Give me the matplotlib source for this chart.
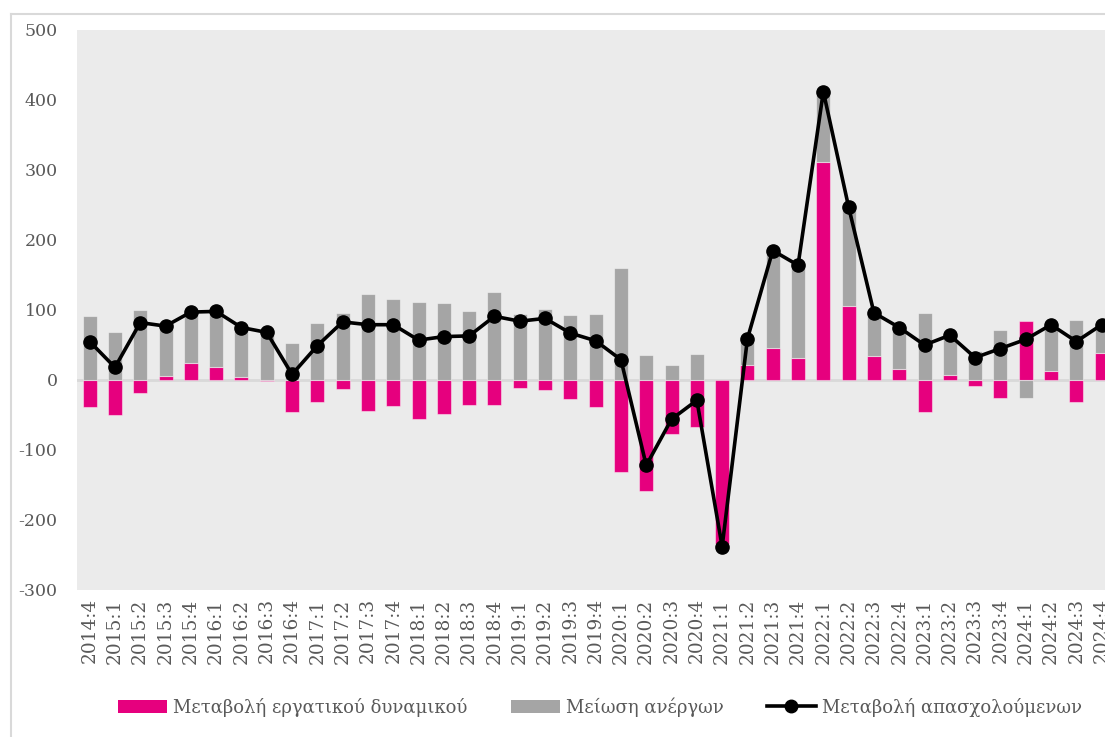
import numpy as np
import matplotlib
matplotlib.use("Agg")
import matplotlib.pyplot as plt
from matplotlib.patches import Patch
from matplotlib.lines import Line2D

categories = ["2014:4",
              "2015:1", "2015:2", "2015:3", "2015:4",
              "2016:1", "2016:2", "2016:3", "2016:4",
              "2017:1", "2017:2", "2017:3", "2017:4",
              "2018:1", "2018:2", "2018:3", "2018:4",
              "2019:1", "2019:2", "2019:3", "2019:4",
              "2020:1", "2020:2", "2020:3", "2020:4",
              "2021:1", "2021:2", "2021:3", "2021:4",
              "2022:1", "2022:2", "2022:3", "2022:4",
              "2023:1", "2023:2", "2023:3", "2023:4",
              "2024:1", "2024:2", "2024:3", "2024:4"]

labour_force_change = [-38,
                       -50, -19, 6, 25,
                       18, 4, -2, -45,
                       -32, -13, -44, -37,
                       -55, -48, -35, -36,
                       -12, -14, -27, -38,
                       -131, -158, -77, -67,
                       -234, 21, 46, 32,
                       312, 106, 34, 16,
                       -46, 7, -9, -26,
                       84, 13, -31, 38]

unemployed_reduction = [92,
                        68, 100, 71, 72,
                        80, 71, 70, 53,
                        81, 96, 123, 116,
                        112, 110, 98, 126,
                        95, 101, 93, 94,
                        160, 36, 21, 37,
                        -4, 38, 139, 132,
                        100, 142, 62, 59,
                        96, 57, 41, 71,
                        -26, 66, 86, 41]

employment_change = [55,
                     18, 82, 77, 97,
                     98, 75, 68, 8,
                     49, 83, 79, 79,
                     57, 62, 63, 91,
                     84, 88, 67, 56,
                     29, -122, -56, -29,
                     -238, 59, 185, 164,
                     412, 247, 96, 75,
                     50, 64, 32, 45,
                     58, 79, 55, 79]

yticks = [-300, -200, -100, 0, 100, 200, 300, 400, 500]

labels = ["Μεταβολή εργατικού δυναμικού", "Μείωση ανέργων", "Μεταβολή απασχολούμενων"]

PINK = "#E6007E"
GREY = "#A5A5A5"
TXT = "#595959"

plt.rcParams["font.family"] = ["DejaVu Serif", "Liberation Serif"]

W, H = 1105, 737
fig = plt.figure(figsize=(W / 100, H / 100), dpi=100)
fig.patch.set_facecolor("white")

left_px, top_px, bot_px = 77, 30, 590
n = len(categories)
step = 25.3
ax = fig.add_axes([left_px / W, 1 - bot_px / H, n * step / W, (bot_px - top_px) / H])
ax.set_facecolor("#EBEBEB")

x = np.arange(n)
pink = np.array(labour_force_change, dtype=float)
grey = np.array(unemployed_reduction, dtype=float)
same_sign = np.sign(pink) == np.sign(grey)
grey_bottom = np.where(same_sign, pink, 0.0)

ax.axhline(0, color="#D9D9D9", lw=2, zorder=1)
bw = 0.55
ax.bar(x, pink, width=bw, color=PINK, edgecolor=(1, 1, 1, 0.45), linewidth=0.8, zorder=2)
ax.bar(x, grey, width=bw, bottom=grey_bottom, color=GREY, edgecolor=(1, 1, 1, 0.45),
       linewidth=0.8, zorder=2)
ax.plot(x, employment_change, color="black", lw=2.6, marker="o", markersize=9.5, zorder=3)

ax.set_xlim(-0.5, n - 0.5)
ax.set_ylim(-300, 500)
ax.set_yticks(yticks)
ax.set_yticklabels([str(v) for v in yticks])
ax.set_xticks(x)
ax.set_xticklabels(categories, rotation=90)
ax.tick_params(axis="both", length=0, colors=TXT)
ax.tick_params(axis="y", pad=14, labelsize=12.5)
ax.tick_params(axis="x", pad=6, labelsize=13.3)
for s in ax.spines.values():
    s.set_visible(False)

# chart border (left and top visible)
fig.add_artist(Line2D([11 / W, 11 / W], [0, 1 - 14 / H], transform=fig.transFigure,
                      color="#D9D9D9", lw=1.5))
fig.add_artist(Line2D([11 / W, 1], [1 - 14 / H, 1 - 14 / H], transform=fig.transFigure,
                      color="#D9D9D9", lw=1.5))

handles = [Patch(facecolor=PINK, edgecolor="none"),
           Patch(facecolor=GREY, edgecolor="none"),
           Line2D([0], [0], color="black", lw=2.6, marker="o", markersize=9)]
fig.legend(handles, labels, loc="center", bbox_to_anchor=(600 / W, 1 - 707 / H), ncol=3,
           frameon=False, fontsize=13, labelcolor=TXT, handlelength=2.7, handleheight=0.75,
           handletextpad=0.35, columnspacing=2.4)

fig.savefig("out.png", dpi=100)
